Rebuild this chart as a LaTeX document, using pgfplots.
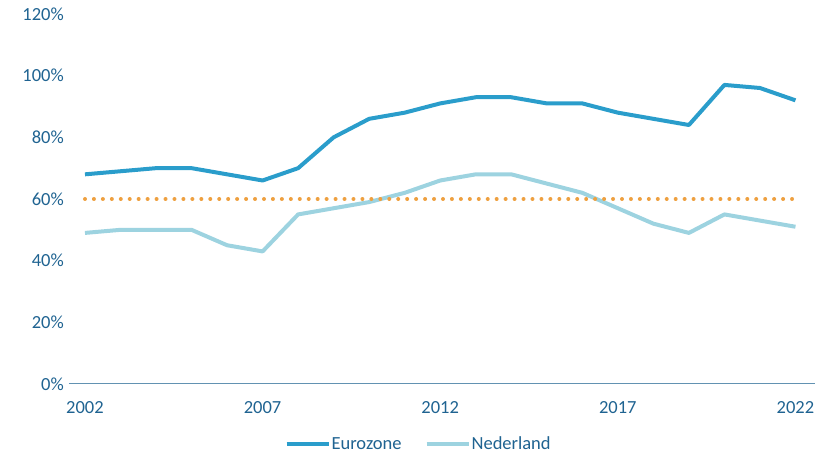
\documentclass[border=0pt]{standalone}
\usepackage{pgfplots}
\pgfplotsset{compat=1.18}
\usepackage{fontspec}
\setmainfont{Carlito}
\definecolor{euro}{HTML}{2A9DCB}
\definecolor{ned}{HTML}{9DD3E0}
\definecolor{orng}{HTML}{EEA040}
\definecolor{txt}{HTML}{1F6391}
\begin{document}
\begin{tikzpicture}
\begin{axis}[
  at={(0pt,0pt)}, anchor=south west,
  scale only axis, width=746pt, height=370pt,
  xmin=2001.55, xmax=2022.55, ymin=0, ymax=120,
  axis y line=none, axis x line*=bottom,
  x axis line style={color=txt!70, line width=1pt, -},
  xtick={2002,2007,2012,2017,2022},
  xticklabel style={/pgf/number format/1000 sep=},
  ytick={0,20,...,120},
  major tick length=0pt,
  tick label style={font=\fontsize{18.5}{21}\selectfont, text=txt},
  /pgf/number format/assume math mode=true,
  xticklabel style={yshift=-14pt},
  legend style={at={(0.468,-0.162)}, anchor=center, draw=none, legend columns=2,
    font=\fontsize{18.5}{21}\selectfont, text=txt,
    nodes={inner xsep=1pt},
    /tikz/every even column/.append style={column sep=22pt}},
  legend image code/.code={\draw[#1] (0pt,0pt) -- (42pt,0pt);},
  clip=false,
]
\addplot[euro, line width=4pt, line join=round] coordinates {
(2002,68) (2003,69) (2004,70) (2005,70) (2006,68) (2007,66) (2008,70) (2009,80) (2010,86) (2011,88) (2012,91) (2013,93) (2014,93) (2015,91) (2016,91) (2017,88) (2018,86) (2019,84) (2020,97) (2021,96) (2022,92)};
\addlegendentry{Eurozone}
\addplot[ned, line width=4pt, line join=round] coordinates {
(2002,49) (2003,50) (2004,50) (2005,50) (2006,45) (2007,43) (2008,55) (2009,57) (2010,59) (2011,62) (2012,66) (2013,68) (2014,68) (2015,65) (2016,62) (2017,57) (2018,52) (2019,49) (2020,55) (2021,53) (2022,51)};
\addlegendentry{Nederland}
\addplot[orng, line width=4pt, line cap=round, dash pattern=on 0pt off 8.95pt, forget plot] coordinates {(2002,60) (2022,60)};
\pgfplotsinvokeforeach{0,20,...,120}{
  \node[anchor=east, inner sep=0pt, font=\fontsize{18.5}{21}\selectfont, text=txt] at (axis cs:2001.55,#1) [xshift=-5pt] {#1\%};
}
\end{axis}
\useasboundingbox (-69pt,-68pt) rectangle (755pt,384pt);
\end{tikzpicture}
\end{document}
